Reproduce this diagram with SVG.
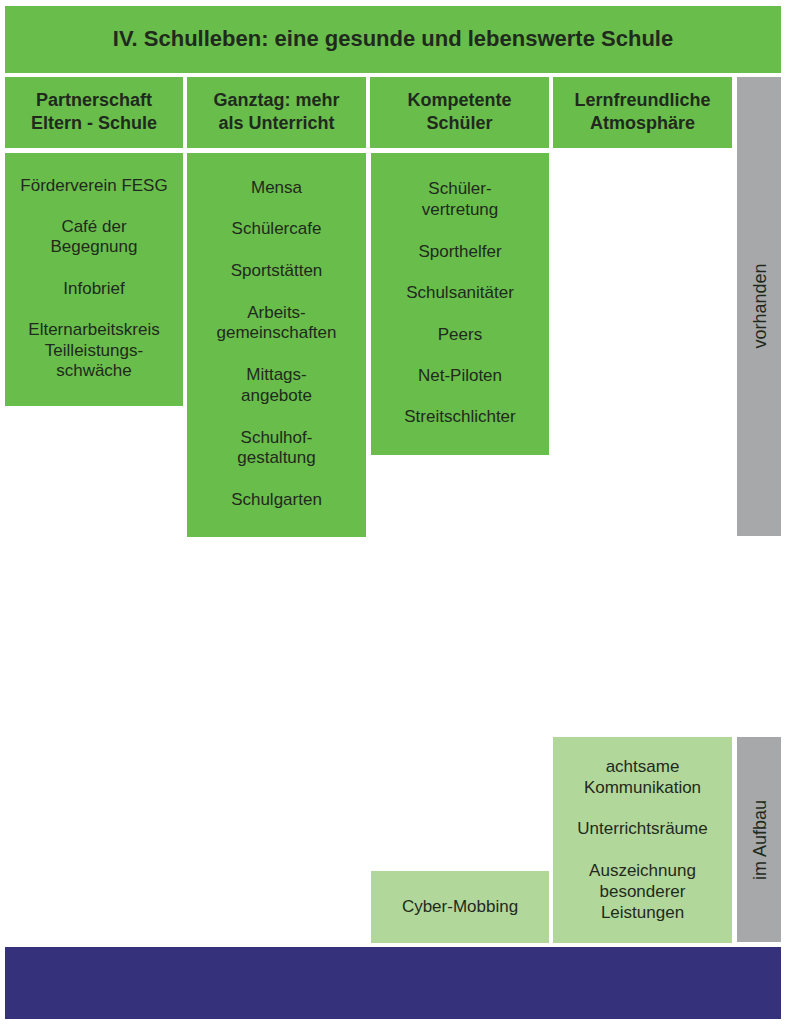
<svg xmlns="http://www.w3.org/2000/svg" width="786" height="1024" viewBox="0 0 786 1024">
<style>
.g{fill:#69bd4b}
.lg{fill:#b2d79a}
.gr{fill:#a7a8aa}
.nv{fill:#35317a}
text{font-family:"Liberation Sans",Arial,sans-serif;fill:#1f2a1d;text-anchor:middle}
.t{font-size:22px;font-weight:bold}
.h{font-size:18px;font-weight:bold}
.b{font-size:17px}
.r{font-size:18px}
</style>
<rect width="786" height="1024" fill="#fff"/>
<g id="title">
<rect class="g" x="5" y="6" width="776" height="67"/>
<text class="t" x="393" y="46">IV. Schulleben: eine gesunde und lebenswerte Schule</text>
</g>
<g id="h1">
<rect class="g" x="5" y="77" width="178" height="71"/>
<text class="h" x="94" y="106">Partnerschaft</text>
<text class="h" x="94" y="129">Eltern - Schule</text>
</g>
<g id="h2">
<rect class="g" x="187" y="77" width="179" height="71"/>
<text class="h" x="276.5" y="106">Ganztag: mehr</text>
<text class="h" x="276.5" y="129">als Unterricht</text>
</g>
<g id="h3">
<rect class="g" x="370" y="77" width="179" height="71"/>
<text class="h" x="459.5" y="106">Kompetente</text>
<text class="h" x="459.5" y="129">Schüler</text>
</g>
<g id="h4">
<rect class="g" x="553" y="77" width="179" height="71"/>
<text class="h" x="642.5" y="106">Lernfreundliche</text>
<text class="h" x="642.5" y="129">Atmosphäre</text>
</g>
<g id="vorhanden">
<rect class="gr" x="737" y="77" width="44" height="459"/>
<text class="r" transform="translate(765.5,306) rotate(-90)">vorhanden</text>
</g>
<g id="c1">
<rect class="g" x="5" y="153" width="178" height="253"/>
<text class="b" x="94" y="191">Förderverein FESG</text>
<text class="b" x="94" y="232">Café der</text>
<text class="b" x="94" y="252">Begegnung</text>
<text class="b" x="94" y="294">Infobrief</text>
<text class="b" x="94" y="335">Elternarbeitskreis</text>
<text class="b" x="94" y="356">Teilleistungs-</text>
<text class="b" x="94" y="376">schwäche</text>
</g>
<g id="c2">
<rect class="g" x="187" y="153" width="179" height="384"/>
<text class="b" x="276.5" y="193">Mensa</text>
<text class="b" x="276.5" y="234">Schülercafe</text>
<text class="b" x="276.5" y="276">Sportstätten</text>
<text class="b" x="276.5" y="318">Arbeits-</text>
<text class="b" x="276.5" y="338">gemeinschaften</text>
<text class="b" x="276.5" y="380">Mittags-</text>
<text class="b" x="276.5" y="401">angebote</text>
<text class="b" x="276.5" y="443">Schulhof-</text>
<text class="b" x="276.5" y="463">gestaltung</text>
<text class="b" x="276.5" y="505">Schulgarten</text>
</g>
<g id="c3">
<rect class="g" x="371" y="153" width="178" height="302"/>
<text class="b" x="460" y="194">Schüler-</text>
<text class="b" x="460" y="215">vertretung</text>
<text class="b" x="460" y="257">Sporthelfer</text>
<text class="b" x="460" y="298">Schulsanitäter</text>
<text class="b" x="460" y="340">Peers</text>
<text class="b" x="460" y="381">Net-Piloten</text>
<text class="b" x="460" y="422">Streitschlichter</text>
</g>
<g id="c3b">
<rect class="lg" x="371" y="871" width="178" height="72"/>
<text class="b" x="460" y="912">Cyber-Mobbing</text>
</g>
<g id="c4b">
<rect class="lg" x="553" y="737" width="179" height="206"/>
<text class="b" x="642.5" y="772">achtsame</text>
<text class="b" x="642.5" y="793">Kommunikation</text>
<text class="b" x="642.5" y="834">Unterrichtsräume</text>
<text class="b" x="642.5" y="876">Auszeichnung</text>
<text class="b" x="642.5" y="897">besonderer</text>
<text class="b" x="642.5" y="918">Leistungen</text>
</g>
<g id="aufbau">
<rect class="gr" x="737" y="737" width="44" height="205"/>
<text class="r" transform="translate(766,840) rotate(-90)">im Aufbau</text>
</g>
<g id="footer">
<rect class="nv" x="5" y="947" width="776" height="72"/>
</g>
<g id="connectors"></g>
</svg>
